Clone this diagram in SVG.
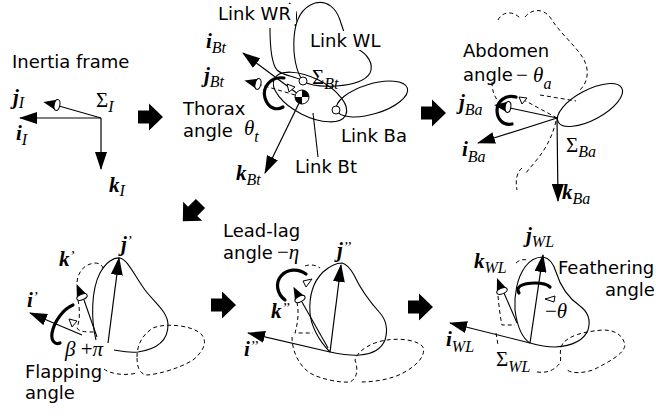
<svg xmlns="http://www.w3.org/2000/svg" width="656" height="416" viewBox="0 0 656 416">
<defs>
<style>
.lbl{font-family:"DejaVu Sans",Verdana,sans-serif;font-size:18px;fill:#000}
.vec{font-family:"Liberation Serif","DejaVu Serif",serif;font-weight:bold;font-style:italic;font-size:21px;fill:#000}
.sub{font-family:"Liberation Serif",serif;font-weight:normal;font-style:italic;font-size:16px}
.pr{font-weight:normal;font-size:15px}
.sym{font-family:"Liberation Serif",serif;font-size:21px;fill:#000}
.it{font-style:italic}
.ax{fill:none;stroke:#000;stroke-width:1.2;marker-end:url(#ah)}
.ln{fill:none;stroke:#000;stroke-width:1.1}
.ds{fill:none;stroke:#000;stroke-width:1;stroke-dasharray:4 3}
.rot{fill:none;stroke:#000;stroke-width:3.2;stroke-linecap:round}
.open{fill:#fff;stroke:#000;stroke-width:1}
.jt{fill:#fff;stroke:#000;stroke-width:1}
</style>
<marker id="ah" viewBox="0 0 18 12" refX="17" refY="6" markerWidth="18" markerHeight="12" markerUnits="userSpaceOnUse" orient="auto"><path d="M0,0 L18,6 L0,12 z"/></marker>
<g id="cone"><path d="M-14,0 L0,-5.5 L0,5.5 z" fill="#000"/><ellipse cx="0" cy="0" rx="2.8" ry="5.5" fill="#fff" stroke="#000" stroke-width="1"/></g>
<polygon id="blockArrow" points="-12,-6.5 -1,-6.5 -1,-13.5 13,0 -1,13.5 -1,6.5 -12,6.5"/>
</defs>
<rect width="656" height="416" fill="#fff"/>

<!-- step arrows between frames -->
<g id="connectors">
<use href="#blockArrow" transform="translate(150,117)"/>
<use href="#blockArrow" transform="translate(433,113)"/>
<use href="#blockArrow" transform="translate(192,212) rotate(135)"/>
<use href="#blockArrow" transform="translate(223,305)"/>
<use href="#blockArrow" transform="translate(420,307)"/>
</g>

<!-- inertial frame -->
<g id="inertia">
<text class="lbl" x="12" y="68">Inertia frame</text>
<path class="ax" d="M101,118 H20"/>
<path class="ax" d="M101,118 V169"/>
<path class="ln" d="M101,118 L59,106"/>
<use href="#cone" transform="translate(57,105) rotate(12)"/>
<text class="vec" x="13" y="104">j<tspan class="sub" dy="4">I</tspan></text>
<text class="vec" x="16" y="140">i<tspan class="sub" dy="5">I</tspan></text>
<text class="sym" x="96" y="107">Σ<tspan class="sub" dy="5">I</tspan></text>
<text class="vec" x="109" y="192">k<tspan class="sub" dy="4">I</tspan></text>
</g>

<!-- thorax frame with wing and abdomen links -->
<g id="thorax">
<path class="ln" d="M303,81 C296,72 293,55 294,38 C295,22 300,8 315,3 C327,0 336,8 340,20 C344,32 346,42 356,48 C368,54 374,64 370,73 C365,82 350,85 336,86 C320,87 309,85 303,81 Z"/>
<path class="ln" d="M303,81 C295,76 283,76 277,70 C271,63 270,45 270,28"/>
<path class="ln" d="M289,3 C297,8 298,15 295,26"/>
<ellipse class="ln" cx="310" cy="97" rx="40" ry="19" transform="rotate(27 310 97)"/>
<ellipse class="ln" cx="372" cy="99" rx="37" ry="15" transform="rotate(-17 372 99)"/>
<path class="ln" d="M313,113 L318,157"/>
<rect x="308" y="31" width="70" height="19" fill="#fff"/>
<rect x="216" y="4" width="80" height="20" fill="#fff"/>
<text class="lbl" x="218" y="20">Link WR</text>
<text class="lbl" x="310" y="47">Link WL</text>
<text class="lbl" x="341" y="142">Link Ba</text>
<text class="lbl" x="295" y="173">Link Bt</text>
<path class="ax" d="M302,97 L243,53"/>
<path class="ax" d="M302,97 L265,173"/>
<path class="ds" d="M302,97 L261,85"/>
<use href="#cone" transform="translate(258,84) rotate(14)"/>
<path class="rot" d="M284,78 C270,76 262,88 265,98 C268,108 276,111 283,107"/>
<path class="open" d="M287,84 L295,87 L289,92 Z"/>
<circle class="jt" cx="303" cy="81" r="4"/>
<circle class="jt" cx="336" cy="110" r="4"/>
<circle class="jt" cx="302" cy="97" r="7"/>
<path d="M302,97 L309,97 A7,7 0 0 0 302,90 Z M302,97 L295,97 A7,7 0 0 0 302,104 Z"/>
<text class="vec" x="206" y="48">i<tspan class="sub" dy="5">Bt</tspan></text>
<text class="vec" x="204" y="82">j<tspan class="sub" dy="5">Bt</tspan></text>
<text class="vec" x="236" y="180">k<tspan class="sub" dy="5">Bt</tspan></text>
<text class="sym" x="312" y="84">Σ<tspan class="sub" dy="5">Bt</tspan></text>
<text class="lbl" x="183" y="115">Thorax</text>
<text class="lbl" x="183" y="137">angle</text>
<text class="sym it" x="244" y="135">θ<tspan class="sub" dy="7">t</tspan></text>
</g>

<!-- abdomen frame -->
<g id="abdomen">
<path class="ds" d="M498,20 C502,12 512,10 520,18"/>
<path class="ds" d="M525,17 C532,8 545,8 552,20 C560,33 575,45 583,58 C590,70 588,82 580,90"/>
<path class="ds" d="M492,82 C492,90 494,96 498,101"/>
<path class="ds" d="M557,118 L522,99"/>
<path class="ds" d="M540,95 L576,101"/>
<path class="ds" d="M556,121 C552,138 545,150 535,162 C531,167 528,170 526,173"/>
<path class="ds" d="M522,168 C517,172 515,180 517,190"/>
<ellipse class="ln" cx="590" cy="105" rx="36" ry="15" transform="rotate(-28 590 105)"/>
<path class="ax" d="M557,118 L558,201"/>
<path class="ax" d="M557,118 L478,143"/>
<path class="ln" d="M557,118 L510,108"/>
<use href="#cone" transform="translate(508,107) rotate(8)"/>
<path class="rot" d="M516,97 C505,94 497,102 497,110 C497,119 503,126 512,124"/>
<path class="open" d="M519,97 L527,98 L522,104 Z"/>
<text class="lbl" x="463" y="57">Abdomen</text>
<text class="lbl" x="463" y="81">angle</text>
<text class="sym" x="516" y="82">− <tspan class="it">θ</tspan><tspan class="sub" dy="7">a</tspan></text>
<text class="vec" x="459" y="109">j<tspan class="sub" dy="6">Ba</tspan></text>
<text class="vec" x="462" y="156">i<tspan class="sub" dy="6">Ba</tspan></text>
<text class="sym" x="566" y="152">Σ<tspan class="sub" dy="5">Ba</tspan></text>
<text class="vec" x="562" y="199">k<tspan class="sub" dy="5">Ba</tspan></text>
</g>

<!-- flapping rotation -->
<g id="flapping">
<path class="ds" d="M77,282 C78,272 84,264 95,263 C99,263 102,265 103,268"/>
<path class="ds" d="M78,300 C80,310 80,320 77,328 C79,332 86,332 95,332"/>
<path class="ds" d="M137,357 C137,345 142,335 153,328 C165,323 190,325 200,333 C208,340 205,350 193,360 C180,368 160,374 147,375 C140,374 137,368 137,357"/>
<path class="ds" d="M104,369 C110,374 125,376 137,373"/>
<path class="ln" d="M96,340 C91,320 91,290 100,273 C106,262 114,257 120,258 C128,260 134,275 145,290 C155,303 168,312 168,325 C168,340 158,349 138,352 C128,353 120,351 114,350"/>
<path class="ax" d="M108,343 L119,258"/>
<path class="ln" d="M97,337 L84,300"/>
<use href="#cone" transform="translate(82,297) rotate(67)"/>
<path class="ax" d="M82,335 L30,313"/>
<path class="rot" d="M73,305 C63,309 54,322 52,333 C51,341 55,345 60,343"/>
<path class="open" d="M69,319 L77,321 L72,327 Z"/>
<text class="vec" x="121" y="251">j<tspan class="pr" dy="-5">’</tspan></text>
<text class="vec" x="59" y="266">k<tspan class="pr" dy="-5">’</tspan></text>
<text class="vec" x="27" y="307">i<tspan class="pr" dy="-5">’</tspan></text>
<text class="sym it" x="65" y="356">β <tspan font-style="normal">+</tspan>π</text>
<text class="lbl" x="25" y="378">Flapping</text>
<text class="lbl" x="25" y="399">angle</text>
</g>

<!-- lead-lag rotation -->
<g id="leadlag">
<path class="ds" d="M305,266 C310,264 316,265 320,268"/>
<path class="ds" d="M297,302 C299,313 298,322 295,333 L313,333"/>
<path class="ds" d="M292,337 C292,350 298,365 310,373 C320,379 340,383 350,382 C358,378 358,368 355,360 C358,350 372,342 387,340 C400,338 418,340 423,347 C426,355 418,365 403,373 C392,379 375,382 360,382"/>
<path class="ln" d="M330,352 C318,340 311,325 310,313 C309,298 312,283 323,272 C330,266 337,263 342,263 C347,264 350,268 354,275 C360,288 370,302 380,313 C386,320 388,330 385,340 C381,350 372,354 360,355 C350,356 340,354 330,352"/>
<path class="ax" d="M330,352 L341,265"/>
<path class="ax" d="M330,352 L248,333"/>
<path class="ln" d="M328,348 L302,302"/>
<use href="#cone" transform="translate(300,299) rotate(62)"/>
<path class="rot" d="M285,300 C277,294 275,283 281,276 C287,269 298,268 306,274"/>
<path class="open" d="M303,281 L312,279 L306,287 Z"/>
<text class="lbl" x="223" y="237">Lead-lag</text>
<text class="lbl" x="223" y="259">angle</text>
<text class="sym" x="277" y="259">−<tspan class="it">η</tspan></text>
<text class="vec" x="337" y="257">j<tspan class="pr" dy="-5">’’</tspan></text>
<text class="vec" x="271" y="318">k<tspan class="pr" dy="-5">’’</tspan></text>
<text class="vec" x="244" y="356">i<tspan class="pr" dy="-5">’’</tspan></text>
</g>

<!-- feathering rotation -->
<g id="feathering">
<path class="ds" d="M516,263 C519,260 523,259 527,260"/>
<path class="ds" d="M498,296 C499,306 500,316 502,325 L515,325"/>
<path class="ds" d="M496,333 L498,345"/>
<path class="ds" d="M537,372 C545,373 553,372 560,363 C562,357 558,352 563,343 C570,336 580,332 603,330 C615,330 623,335 625,345 C624,353 613,360 593,370 C583,373 573,374 567,370"/>
<path class="ln" d="M530,343 C522,338 517,325 515,310 C514,295 517,278 525,267 C530,260 536,257 543,257 C549,258 553,262 556,272 C560,285 567,297 580,306 C588,312 591,320 588,330 C584,340 572,346 555,347 C545,347 537,345 530,343"/>
<path class="ax" d="M530,343 L543,255"/>
<path class="ax" d="M530,343 L450,323"/>
<path class="ln" d="M517,323 L504,293"/>
<use href="#cone" transform="translate(502,291) rotate(69)"/>
<path class="rot" d="M519,293 C515,287 522,283 535,283 C543,283 548,285 550,287"/>
<path class="open" d="M545,299 L555,296 L554,302 Z"/>
<text class="vec" x="526" y="242">j<tspan class="sub" dy="5">WL</tspan></text>
<text class="vec" x="474" y="268">k<tspan class="sub" dy="5">WL</tspan></text>
<text class="lbl" x="558" y="274">Feathering</text>
<text class="lbl" x="605" y="296">angle</text>
<text class="sym" x="545" y="318">−<tspan class="it">θ</tspan></text>
<text class="vec" x="446" y="346">i<tspan class="sub" dy="6">WL</tspan></text>
<text class="sym" x="496" y="366">Σ<tspan class="sub" dy="6">WL</tspan></text>
</g>
</svg>
